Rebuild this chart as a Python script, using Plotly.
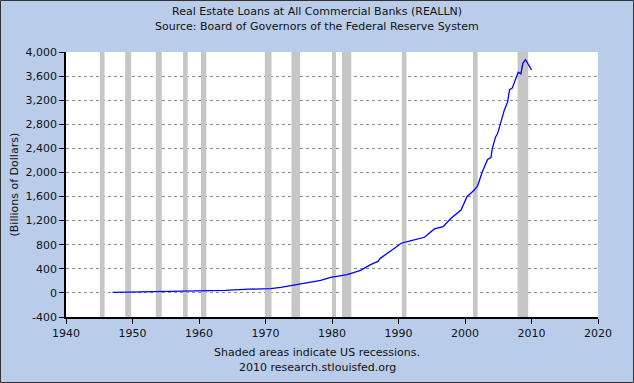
import plotly.graph_objects as go

# Data (billions of dollars)
years = [1947.0, 1950.0, 1955.0, 1958.0, 1960.0, 1964.0, 1967.5, 1970.8, 1972.3, 1973.8,
         1976.3, 1978.3, 1979.8, 1982.3, 1984.3, 1985.8, 1986.9, 1987.3, 1989.4, 1990.4,
         1991.9, 1993.9, 1995.4, 1996.7, 1997.9, 1999.4, 2000.3, 2001.4, 2001.9, 2002.6,
         2003.4, 2003.9, 2004.1, 2004.6, 2004.9, 2005.3, 2005.6, 2005.9, 2006.4, 2006.7,
         2007.1, 2007.5, 2008.0, 2008.4, 2008.7, 2009.1, 2009.5, 2009.8, 2010.0]
loans = [9, 14, 21, 27, 29, 43, 62, 72, 93, 120,
         160, 208, 258, 302, 375, 470, 522, 578, 742, 825,
         870, 924, 1062, 1100, 1238, 1376, 1597, 1707, 1778, 2010,
         2214, 2248, 2397, 2590, 2645, 2810, 2900, 3030, 3168, 3373,
         3400, 3526, 3663, 3636, 3812, 3873, 3801, 3740, 3702]

recession_start = [1945.1, 1948.9, 1953.5, 1957.6, 1960.3, 1969.9, 1973.9, 1980.0, 1981.5, 1990.5, 2001.2, 2007.9]
recession_end = [1945.8, 1949.8, 1954.4, 1958.3, 1961.1, 1970.9, 1975.2, 1980.6, 1982.9, 1991.2, 2001.9, 2009.5]

x_ticks = [1940, 1950, 1960, 1970, 1980, 1990, 2000, 2010, 2020]
y_ticks = list(range(-400, 4001, 400))
y_tick_labels = [f"{v:,}" for v in y_ticks]

title_lines = ["Real Estate Loans at All Commercial Banks (REALLN)",
               "Source: Board of Governors of the Federal Reserve System"]
footer_lines = ["Shaded areas indicate US recessions.", "2010 research.stlouisfed.org"]
y_title = "(Billions of Dollars)"

FONT = "DejaVu Sans, Verdana, sans-serif"
W, H = 634, 383
L, R, T, B = 66, 36, 52, 66

fig = go.Figure()
fig.add_trace(go.Scatter(x=years, y=loans, mode="lines",
                         line=dict(color="#0000FF", width=1.3), hoverinfo="skip",
                         showlegend=False))

shapes = []
for s, e in zip(recession_start, recession_end):
    shapes.append(dict(type="rect", xref="x", yref="y", x0=s, x1=e, y0=-400, y1=4000,
                       fillcolor="#C6C6C6", line=dict(width=0), layer="between"))
# outer frame
pw, ph = W - L - R, H - T - B
shapes.append(dict(type="rect", xref="paper", yref="paper",
                   x0=-L / pw + 0.5 / pw, x1=1 + (R - 0.5) / pw,
                   y0=-B / ph + 0.5 / ph, y1=1 + (T - 0.5) / ph,
                   line=dict(color="#333333", width=1), fillcolor="rgba(0,0,0,0)", layer="above"))

annotations = []
for i, t in enumerate(title_lines):
    annotations.append(dict(text=t, xref="paper", yref="paper",
                            x=(W / 2 - L) / pw, y=1 + (T - 11 - 15 * i) / ph,
                            xanchor="center", yanchor="middle", showarrow=False,
                            font=dict(family=FONT, size=11, color="#111111")))
for i, t in enumerate(footer_lines):
    annotations.append(dict(text=t, xref="paper", yref="paper",
                            x=(W / 2 - L) / pw, y=-(352 - (H - B) + 15 * i) / ph,
                            xanchor="center", yanchor="middle", showarrow=False,
                            font=dict(family=FONT, size=11, color="#111111")))
annotations.append(dict(text=y_title, xref="paper", yref="paper",
                        x=-(L - 14) / pw, y=0.5, textangle=-90,
                        xanchor="center", yanchor="middle", showarrow=False,
                        font=dict(family=FONT, size=11, color="#111111")))

fig.update_layout(
    width=W, height=H,
    margin=dict(l=L, r=R, t=T, b=B, pad=0),
    paper_bgcolor="#B9CDEB",
    plot_bgcolor="#FFFFFF",
    font=dict(family=FONT, size=11, color="#111111"),
    shapes=shapes,
    annotations=annotations,
    xaxis=dict(range=[1940, 2020], tickvals=x_ticks, ticks="outside", ticklen=5,
               tickcolor="#000000", showline=True, linecolor="#000000", linewidth=1.5,
               showgrid=False, zeroline=False, fixedrange=True,
               tickfont=dict(family=FONT, size=11, color="#111111")),
    yaxis=dict(range=[-400, 4000], tickvals=y_ticks, ticktext=y_tick_labels, ticks="outside",
               ticklen=5, tickcolor="#000000", showline=True, linecolor="#000000",
               linewidth=1.5, showgrid=True, gridcolor="#8C8C8C", griddash="dot",
               gridwidth=1, zeroline=False, fixedrange=True,
               tickfont=dict(family=FONT, size=11, color="#111111")),
)

fig.write_html("out.html", config={"displayModeBar": False},
               post_script="document.body.style.margin='0';document.body.style.overflow='hidden';")
